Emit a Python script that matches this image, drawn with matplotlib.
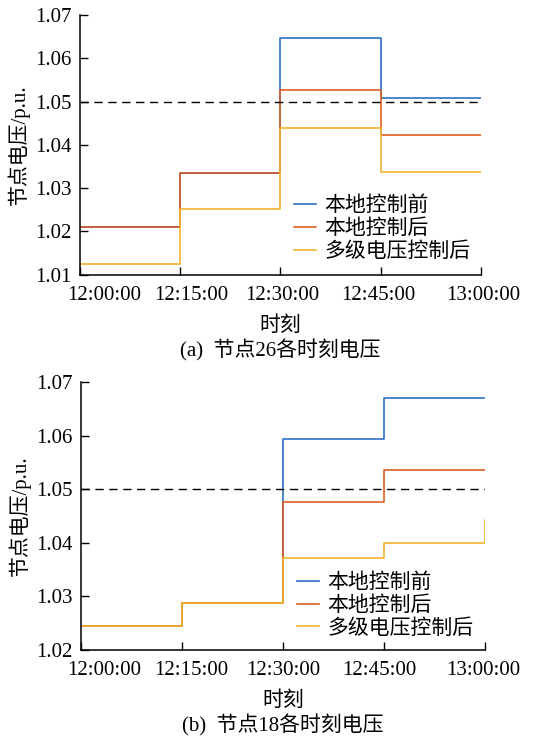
import matplotlib
matplotlib.use("Agg")
import matplotlib.pyplot as plt
from matplotlib.transforms import ScaledTranslation

plt.rcParams['font.family'] = ['Liberation Serif', 'Noto Sans CJK SC', 'DejaVu Sans']
plt.rcParams['axes.unicode_minus'] = False

# 时间 (分钟, 从12:00起)
minutes = [0, 15, 30, 45, 60]
time_labels = ['12:00:00', '12:15:00', '12:30:00', '12:45:00', '13:00:00']
series_names = ['本地控制前', '本地控制后', '多级电压控制后']
colors = ['#2f6fc4', '#dd5f24', '#f2b32e']

# 节点26
node26_before = [1.0211, 1.0334, 1.0647, 1.0509, 1.0509]
node26_local = [1.0211, 1.0334, 1.0527, 1.0423, 1.0423]
node26_multi = [1.0125, 1.0252, 1.0440, 1.0337, 1.0337]

# 节点18
node18_before = [1.0244, 1.0288, 1.0594, 1.0670, 1.0670]
node18_local = [1.0244, 1.0288, 1.0476, 1.0537, 1.0537]
node18_multi = [1.0244, 1.0288, 1.0372, 1.0400, 1.0442]

limit_v = 1.05

fig = plt.figure(figsize=(5.33, 7.39), dpi=100)
ax1 = fig.add_axes([0.150, 0.6283, 0.752, 0.3514])
ax2 = fig.add_axes([0.152, 0.1204, 0.758, 0.3623])


def draw_panel(ax, data, ylim, yticks, caption, leg_y, shifts, cap_y):
    for vals, name, c in zip(data, series_names, colors):
        ax.step(minutes, vals, where='post', color=c, lw=1.2, label=name)
    ax.axhline(limit_v, color='black', lw=1.0, ls=(0, (6, 4)))
    ax.set_xlim(0, 60)
    ax.set_ylim(*ylim)
    ax.set_xticks(minutes)
    ax.set_xticklabels(time_labels)
    ax.set_yticks(yticks)
    ax.set_yticklabels(['%.2f' % t for t in yticks])
    ax.spines['top'].set_visible(False)
    ax.spines['right'].set_visible(False)
    for s in ['left', 'bottom']:
        ax.spines[s].set_linewidth(1.1)
    ax.tick_params(direction='in', length=6, width=1.0, labelsize=15)
    ax.tick_params(axis='x', pad=8)
    ax.tick_params(axis='y', pad=6)
    # 横轴标签位置略有偏移
    for lab, dx in zip(ax.get_xticklabels(), shifts):
        lab.set_transform(lab.get_transform() + ScaledTranslation(dx / 100, 0, fig.dpi_scale_trans))
    ax.set_ylabel('节点电压/p.u.', fontsize=15, labelpad=4)
    ax.set_xlabel('时刻', fontsize=15, labelpad=8)
    ax.text(0.5, cap_y, caption, transform=ax.transAxes, ha='center', va='center', fontsize=15)
    ax.legend(loc='upper left', bbox_to_anchor=(0.535, leg_y), frameon=False, fontsize=15,
              handlelength=1.05, handletextpad=0.4, labelspacing=0.15,
              borderaxespad=0, borderpad=0)


draw_panel(ax1, [node26_before, node26_local, node26_multi], (1.01, 1.07),
           [1.01, 1.02, 1.03, 1.04, 1.05, 1.06, 1.07], '(a)  节点26各时刻电压', 0.30,
           [24, 11, 2, -2, 2], -0.29)
draw_panel(ax2, [node18_before, node18_local, node18_multi], (1.02, 1.07),
           [1.02, 1.03, 1.04, 1.05, 1.06, 1.07], '(b)  节点18各时刻电压', 0.285,
           [23, 9, 0, -5, -2], -0.28)

fig.savefig('out.png', dpi=100)
